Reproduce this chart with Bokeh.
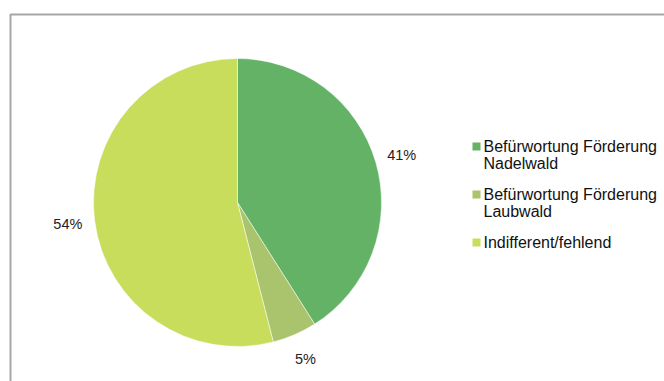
import math
from bokeh.plotting import figure
from bokeh.models import ColumnDataSource
from bokeh.core.properties import value
from bokeh.embed import file_html
from bokeh.resources import INLINE

# ---- data ----
categories = ["Befürwortung Förderung Nadelwald",
              "Befürwortung Förderung Laubwald",
              "Indifferent/fehlend"]
legend_lines = [["Befürwortung Förderung", "Nadelwald"],
                ["Befürwortung Förderung", "Laubwald"],
                ["Indifferent/fehlend"]]
shares = [41, 5, 54]
colors = ["#63b265", "#a9c46c", "#c9dd5c"]

W, H = 664, 381
p = figure(width=W, height=H, x_range=(0, W), y_range=(H, 0),
           output_backend="svg", toolbar_location=None, min_border=0)
p.axis.visible = False
p.grid.visible = False
p.outline_line_color = None
p.background_fill_color = "white"
p.border_fill_color = "white"

# chart-area border
p.quad(left=[10], right=[W + 10], top=[14], bottom=[H + 10],
       fill_color=None, line_color="#a6a6a6", line_width=2)

# pie, clockwise from 12 o'clock (wedge angles are screen angles, y up)
cx, cy, r = 237, 202, 144
total = sum(shares)
starts, ends, mids = [], [], []
acc = 0.0
for v in shares:
    a0 = math.pi / 2 - 2 * math.pi * acc / total
    acc += v
    a1 = math.pi / 2 - 2 * math.pi * acc / total
    starts.append(a0)
    ends.append(a1)
    mids.append((a0 + a1) / 2)

src = ColumnDataSource(dict(start=starts, end=ends, color=colors))
p.wedge(x=cx, y=cy, radius=r, start_angle="start", end_angle="end",
        direction="clock", fill_color="color", line_color="white",
        line_width=0.5, source=src)

# percent labels (data y is flipped, so negate sin)
lr = 171
lx = [cx + lr * math.cos(m) for m in mids]
ly = [cy - lr * math.sin(m) for m in mids]
p.text(x=lx, y=ly, text=[f"{v}%" for v in shares],
       text_font=value("Liberation Sans"), text_font_size="14.5px",
       text_color="#222222", text_align="center", text_baseline="middle")

# legend
ly0 = [146, 194, 242]
p.rect(x=[476] * 3, y=ly0, width=8, height=8, fill_color=colors,
       line_color=None)
tx, ty, tt = [], [], []
for lines, y0 in zip(legend_lines, ly0):
    for k, s in enumerate(lines):
        tx.append(483)
        ty.append(y0 + 17 * k)
        tt.append(s)
p.text(x=tx, y=ty, text=tt, text_font=value("Liberation Sans"),
       text_font_size="16px", text_color="#111111",
       text_align="left", text_baseline="middle")

open("out.html", "w").write(file_html(p, INLINE))
